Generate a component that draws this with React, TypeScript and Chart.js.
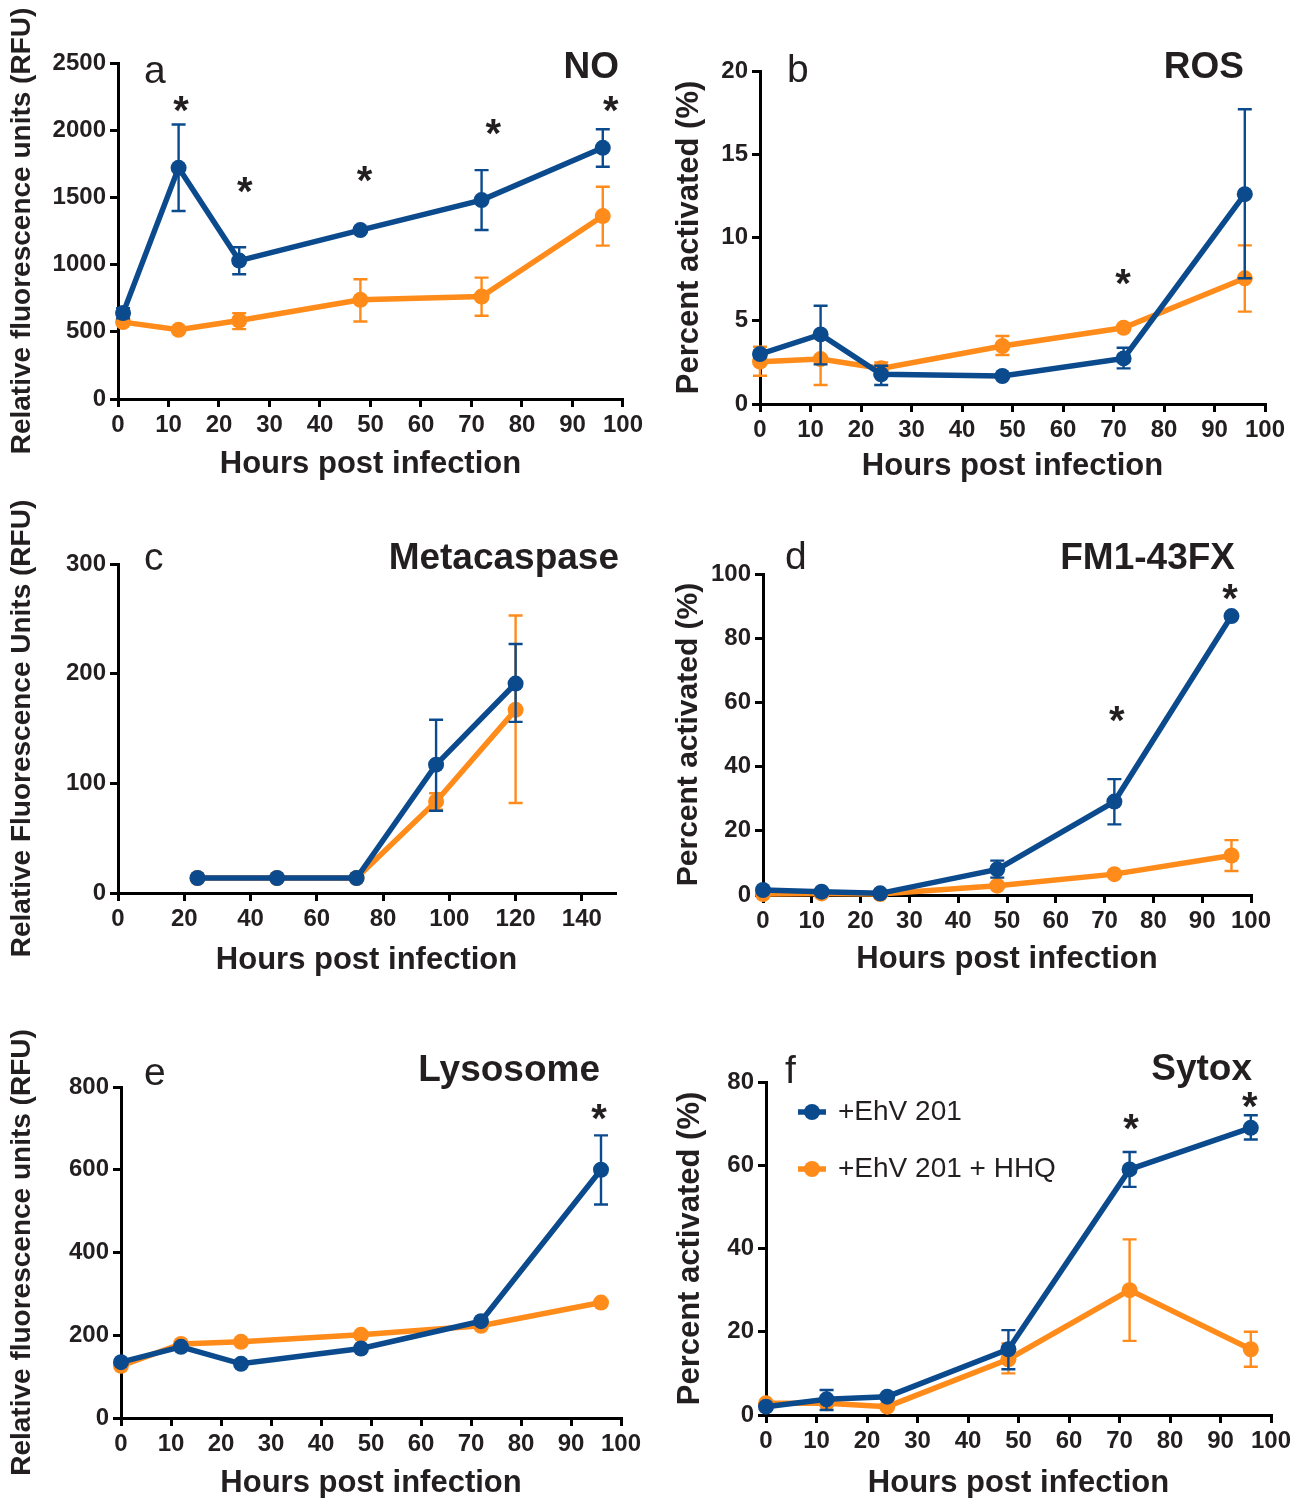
import React, { useEffect, useRef } from "react";
import { Chart, registerables } from "chart.js";

Chart.register(...registerables);

const BLUE = "#0B4A8D";
const ORANGE = "#FF8B1A";
const INK = "#231F20";
const FONT = "'Liberation Sans', Arial, Helvetica, sans-serif";

const SERIES_LABELS = ["+EhV 201", "+EhV 201 + HHQ"];
const X_TITLE = "Hours post infection";

type Err = [number, number] | null;

// ---------- Panel a: NO ----------
const hoursA = [1, 12, 24, 48, 72, 96];
const noEhv = [639, 1720, 1030, 1257, 1480, 1869];
const noEhvErr: Err[] = [[600, 676], [1399, 2042], [928, 1129], null, [1257, 1703], [1728, 2007]];
const noHhq = [572, 515, 584, 738, 762, 1361];
const noHhqErr: Err[] = [null, null, [520, 639], [577, 891], [619, 903], [1141, 1579]];
const starsA = [[12.5, 2210], [25.1, 1607], [48.8, 1689], [74.3, 2039], [97.6, 2210]];
const xTicksA = [0, 10, 20, 30, 40, 50, 60, 70, 80, 90, 100];
const yTicksA = [0, 500, 1000, 1500, 2000, 2500];

// ---------- Panel b: ROS ----------
const hoursB = [0, 12, 24, 48, 72, 96];
const rosEhv = [3.0, 4.18, 1.78, 1.68, 2.74, 12.6];
const rosEhvErr: Err[] = [[2.8, 3.2], [2.38, 5.9], [1.14, 2.3], null, [2.14, 3.38], [7.55, 17.7]];
const rosHhq = [2.54, 2.7, 2.14, 3.48, 4.58, 7.55];
const rosHhqErr: Err[] = [[1.7, 3.44], [1.14, 4.26], [1.8, 2.5], [2.94, 4.08], null, [5.55, 9.53]];
const starsB = [[71.9, 7.75]];
const xTicksB = [0, 10, 20, 30, 40, 50, 60, 70, 80, 90, 100];
const yTicksB = [0, 5, 10, 15, 20];

// ---------- Panel c: Metacaspase ----------
const hoursC = [24, 48, 72, 96, 120];
const metEhv = [13.7, 13.7, 13.7, 117, 191];
const metEhvErr: Err[] = [null, null, null, [75, 158], [156, 227]];
const metHhq = [13.7, 13.7, 13.7, 83.5, 167];
const metHhqErr: Err[] = [null, null, null, [76, 91], [82, 253]];
const starsC: number[][] = [];
const xTicksC = [0, 20, 40, 60, 80, 100, 120, 140];
const yTicksC = [0, 100, 200, 300];

// ---------- Panel d: FM1-43FX ----------
const hoursD = [0, 12, 24, 48, 72, 96];
const fmEhv = [1.56, 1.04, 0.52, 8.0, 29.1, 86.9];
const fmEhvErr: Err[] = [null, null, null, [5.4, 10.7], [22.0, 36.1], null];
const fmHhq = [0.3, 0.5, 0.3, 2.9, 6.5, 12.3];
const fmHhqErr: Err[] = [null, null, null, null, null, [7.5, 17.1]];
const starsD = [[72.5, 57], [95.7, 95]];
const xTicksD = [0, 10, 20, 30, 40, 50, 60, 70, 80, 90, 100];
const yTicksD = [0, 20, 40, 60, 80, 100];

// ---------- Panel e: Lysosome ----------
const hoursE = [0, 12, 24, 48, 72, 96];
const lysEhv = [135, 172, 131, 168, 234, 600];
const lysEhvErr: Err[] = [null, null, null, null, null, [516, 683]];
const lysHhq = [126, 179, 184, 201, 223, 279];
const lysHhqErr: Err[] = [null, null, null, null, null, null];
const starsE = [[95.6, 744]];
const xTicksE = [0, 10, 20, 30, 40, 50, 60, 70, 80, 90, 100];
const yTicksE = [0, 200, 400, 600, 800];

// ---------- Panel f: Sytox ----------
const hoursF = [0, 12, 24, 48, 72, 96];
const syEhv = [2.0, 3.76, 4.4, 15.8, 59.0, 69.0];
const syEhvErr: Err[] = [null, [1.2, 6.0], null, [11.0, 20.4], [54.8, 63.2], [66.2, 72.0]];
const syHhq = [2.8, 2.8, 2.0, 13.4, 30, 15.8];
const syHhqErr: Err[] = [null, null, null, [10, 17.2], [17.8, 42.2], [11.6, 20]];
const starsF = [[72.3, 70.9], [95.8, 76.2]];
const xTicksF = [0, 10, 20, 30, 40, 50, 60, 70, 80, 90, 100];
const yTicksF = [0, 20, 40, 60, 80];

type PanelCfg = {
  box: [number, number, number, number];
  area: [number, number, number, number];
  xMax: number;
  xTicks: number[];
  yMax: number;
  yTicks: number[];
  yTitle: string;
  yTitleSize: number;
  yTitleCenter: number;
  xTitleCenter: number;
  letter: string;
  letterPos: [number, number];
  title: string;
  titlePos: [number, number];
  hours: number[];
  ehv: number[];
  ehvErr: Err[];
  hhq: number[];
  hhqErr: Err[];
  stars: number[][];
  legend?: { x: number; y: number[]; textX: number };
};

const PANELS: PanelCfg[] = [
  {
    box: [0, 0, 649, 490], area: [118, 63, 624, 399],
    xMax: 100, xTicks: xTicksA, yMax: 2500, yTicks: yTicksA,
    yTitle: "Relative fluorescence units (RFU)", yTitleSize: 28, yTitleCenter: 22, xTitleCenter: 464,
    letter: "a", letterPos: [144, 83], title: "NO", titlePos: [619, 78],
    hours: hoursA, ehv: noEhv, ehvErr: noEhvErr, hhq: noHhq, hhqErr: noHhqErr, stars: starsA,
  },
  {
    box: [649, 0, 649, 490], area: [760, 71, 1265, 404],
    xMax: 100, xTicks: xTicksB, yMax: 20, yTicks: yTicksB,
    yTitle: "Percent activated (%)", yTitleSize: 31, yTitleCenter: 689, xTitleCenter: 466,
    letter: "b", letterPos: [787, 82], title: "ROS", titlePos: [1244, 78],
    hours: hoursB, ehv: rosEhv, ehvErr: rosEhvErr, hhq: rosHhq, hhqErr: rosHhqErr, stars: starsB,
  },
  {
    box: [0, 490, 649, 500], area: [118, 564, 615, 893],
    xMax: 150, xTicks: xTicksC, yMax: 300, yTicks: yTicksC,
    yTitle: "Relative Fluorescence Units (RFU)", yTitleSize: 28, yTitleCenter: 22, xTitleCenter: 960,
    letter: "c", letterPos: [144, 570], title: "Metacaspase", titlePos: [619, 569],
    hours: hoursC, ehv: metEhv, ehvErr: metEhvErr, hhq: metHhq, hhqErr: metHhqErr, stars: starsC,
  },
  {
    box: [649, 490, 649, 500], area: [763, 574, 1251, 895],
    xMax: 100, xTicks: xTicksD, yMax: 100, yTicks: yTicksD,
    yTitle: "Percent activated (%)", yTitleSize: 30, yTitleCenter: 689, xTitleCenter: 959,
    letter: "d", letterPos: [785, 569], title: "FM1-43FX", titlePos: [1235, 569],
    hours: hoursD, ehv: fmEhv, ehvErr: fmEhvErr, hhq: fmHhq, hhqErr: fmHhqErr, stars: starsD,
  },
  {
    box: [0, 990, 649, 508], area: [121, 1087, 621, 1418],
    xMax: 100, xTicks: xTicksE, yMax: 800, yTicks: yTicksE,
    yTitle: "Relative fluorescence units (RFU)", yTitleSize: 28, yTitleCenter: 22, xTitleCenter: 1483,
    letter: "e", letterPos: [144, 1085], title: "Lysosome", titlePos: [600, 1081],
    hours: hoursE, ehv: lysEhv, ehvErr: lysEhvErr, hhq: lysHhq, hhqErr: lysHhqErr, stars: starsE,
  },
  {
    box: [649, 990, 649, 508], area: [766, 1082, 1271, 1415],
    xMax: 100, xTicks: xTicksF, yMax: 80, yTicks: yTicksF,
    yTitle: "Percent activated (%)", yTitleSize: 31, yTitleCenter: 690, xTitleCenter: 1483,
    letter: "f", letterPos: [785, 1083], title: "Sytox", titlePos: [1252, 1080],
    hours: hoursF, ehv: syEhv, ehvErr: syEhvErr, hhq: syHhq, hhqErr: syHhqErr, stars: starsF,
    legend: { x: 812, y: [1112, 1169], textX: 838 },
  },
];

function PanelChart({ cfg }: { cfg: PanelCfg }) {
  const ref = useRef<HTMLCanvasElement>(null);
  const [bl, bt, bw, bh] = cfg.box;

  useEffect(() => {
    const canvas = ref.current;
    if (!canvas) return;
    const [al, at, ar, ab] = cfg.area;
    const yAxisW = al - bl;
    const topPad = at - bt;
    const rightPad = bw - (ar - bl);
    const xAxisH = bh - (ab - bt);

    const series = [
      { label: SERIES_LABELS[0], values: cfg.ehv, err: cfg.ehvErr, color: BLUE },
      { label: SERIES_LABELS[1], values: cfg.hhq, err: cfg.hhqErr, color: ORANGE },
    ];

    const overlay = {
      id: "panelOverlay",
      afterDatasetDraw(chart: any, args: any) {
        const s = series[args.index];
        if (!s) return;
        const ctx = chart.ctx as CanvasRenderingContext2D;
        const xs = chart.scales.x;
        const ys = chart.scales.y;
        ctx.save();
        ctx.strokeStyle = s.color;
        ctx.lineWidth = 2.4;
        ctx.lineCap = "butt";
        s.err.forEach((e, i) => {
          if (!e) return;
          const px = xs.getPixelForValue(cfg.hours[i]);
          const lo = ys.getPixelForValue(e[0]);
          const hi = ys.getPixelForValue(e[1]);
          ctx.beginPath();
          ctx.moveTo(px, lo);
          ctx.lineTo(px, hi);
          ctx.moveTo(px - 7, lo);
          ctx.lineTo(px + 7, lo);
          ctx.moveTo(px - 7, hi);
          ctx.lineTo(px + 7, hi);
          ctx.stroke();
        });
        ctx.restore();
      },
      afterDraw(chart: any) {
        const ctx = chart.ctx as CanvasRenderingContext2D;
        const xs = chart.scales.x;
        const ys = chart.scales.y;
        ctx.save();
        ctx.fillStyle = INK;
        ctx.textBaseline = "alphabetic";
        ctx.textAlign = "left";
        ctx.font = `39px ${FONT}`;
        ctx.fillText(cfg.letter, cfg.letterPos[0] - bl, cfg.letterPos[1] - bt);
        ctx.textAlign = "right";
        ctx.font = `bold 37px ${FONT}`;
        ctx.fillText(cfg.title, cfg.titlePos[0] - bl, cfg.titlePos[1] - bt);
        ctx.textAlign = "center";
        const starSize = 40;
        ctx.font = `bold ${starSize}px ${FONT}`;
        cfg.stars.forEach(([h, v]) => {
          ctx.fillText("*", xs.getPixelForValue(h), ys.getPixelForValue(v) + 0.555 * starSize);
        });
        if (cfg.legend) {
          const lg = cfg.legend;
          series.forEach((s, i) => {
            const cx = lg.x - bl;
            const cy = lg.y[i] - bt;
            ctx.strokeStyle = s.color;
            ctx.fillStyle = s.color;
            ctx.lineWidth = 5.5;
            ctx.beginPath();
            ctx.moveTo(cx - 14, cy);
            ctx.lineTo(cx + 14, cy);
            ctx.stroke();
            ctx.beginPath();
            ctx.arc(cx, cy, 8, 0, Math.PI * 2);
            ctx.fill();
            ctx.fillStyle = INK;
            ctx.font = `28px ${FONT}`;
            ctx.textAlign = "left";
            ctx.textBaseline = "middle";
            ctx.fillText(s.label, lg.textX - bl, cy);
          });
        }
        ctx.restore();
      },
    };

    const tickFont = { family: FONT, size: 24, weight: "bold" as const, lineHeight: 1 };
    const axisGrid = {
      drawOnChartArea: false,
      drawTicks: true,
      tickLength: 8,
      color: "#000",
      lineWidth: 3,
    };
    const plain = (v: any) => String(v);

    const chart = new Chart(canvas, {
      type: "line",
      data: {
        datasets: series.map((s) => ({
          label: s.label,
          data: cfg.hours.map((h, i) => ({ x: h, y: s.values[i] })),
          borderColor: s.color,
          backgroundColor: s.color,
          borderWidth: 5.5,
          pointRadius: 8,
          pointHoverRadius: 8,
          pointBorderWidth: 0,
          pointBackgroundColor: s.color,
          tension: 0,
          clip: false as any,
        })),
      },
      options: {
        responsive: false,
        animation: false,
        devicePixelRatio: 1,
        events: [],
        layout: { padding: { left: 0, top: topPad, right: rightPad, bottom: 0 } },
        plugins: { legend: { display: false }, tooltip: { enabled: false } },
        scales: {
          x: {
            type: "linear",
            position: "bottom",
            min: 0,
            max: cfg.xMax,
            afterBuildTicks: (s: any) => {
              s.ticks = cfg.xTicks.map((v) => ({ value: v }));
            },
            afterFit: (s: any) => {
              s.height = xAxisH;
            },
            grid: axisGrid,
            border: { display: true, color: "#000", width: 3 },
            ticks: { font: tickFont, color: INK, padding: 6, maxRotation: 0, autoSkip: false, callback: plain },
            title: {
              display: true,
              text: X_TITLE,
              color: INK,
              font: { family: FONT, size: 31, weight: "bold", lineHeight: 1 },
              padding: { top: 0, bottom: bt + bh - cfg.xTitleCenter - 15.5 },
            },
          },
          y: {
            type: "linear",
            position: "left",
            min: 0,
            max: cfg.yMax,
            afterBuildTicks: (s: any) => {
              s.ticks = cfg.yTicks.map((v) => ({ value: v }));
            },
            afterFit: (s: any) => {
              s.width = yAxisW;
            },
            grid: axisGrid,
            border: { display: true, color: "#000", width: 3 },
            ticks: { font: tickFont, color: INK, padding: 4, autoSkip: false, callback: plain },
            title: {
              display: true,
              text: cfg.yTitle,
              color: INK,
              font: { family: FONT, size: cfg.yTitleSize, weight: "bold", lineHeight: 1 },
              padding: { top: cfg.yTitleCenter - bl - cfg.yTitleSize / 2, bottom: 0 },
            },
          },
        },
      },
      plugins: [overlay],
    } as any);

    return () => chart.destroy();
  }, [cfg]);

  return (
    <canvas
      ref={ref}
      width={bw}
      height={bh}
      style={{ position: "absolute", left: bl, top: bt, width: bw, height: bh }}
    />
  );
}

export default function App() {
  return (
    <div
      style={{
        position: "absolute",
        left: 0,
        top: 0,
        width: 1298,
        height: 1498,
        background: "#fff",
        overflow: "hidden",
      }}
    >
      {PANELS.map((p, i) => (
        <PanelChart key={i} cfg={p} />
      ))}
    </div>
  );
}
